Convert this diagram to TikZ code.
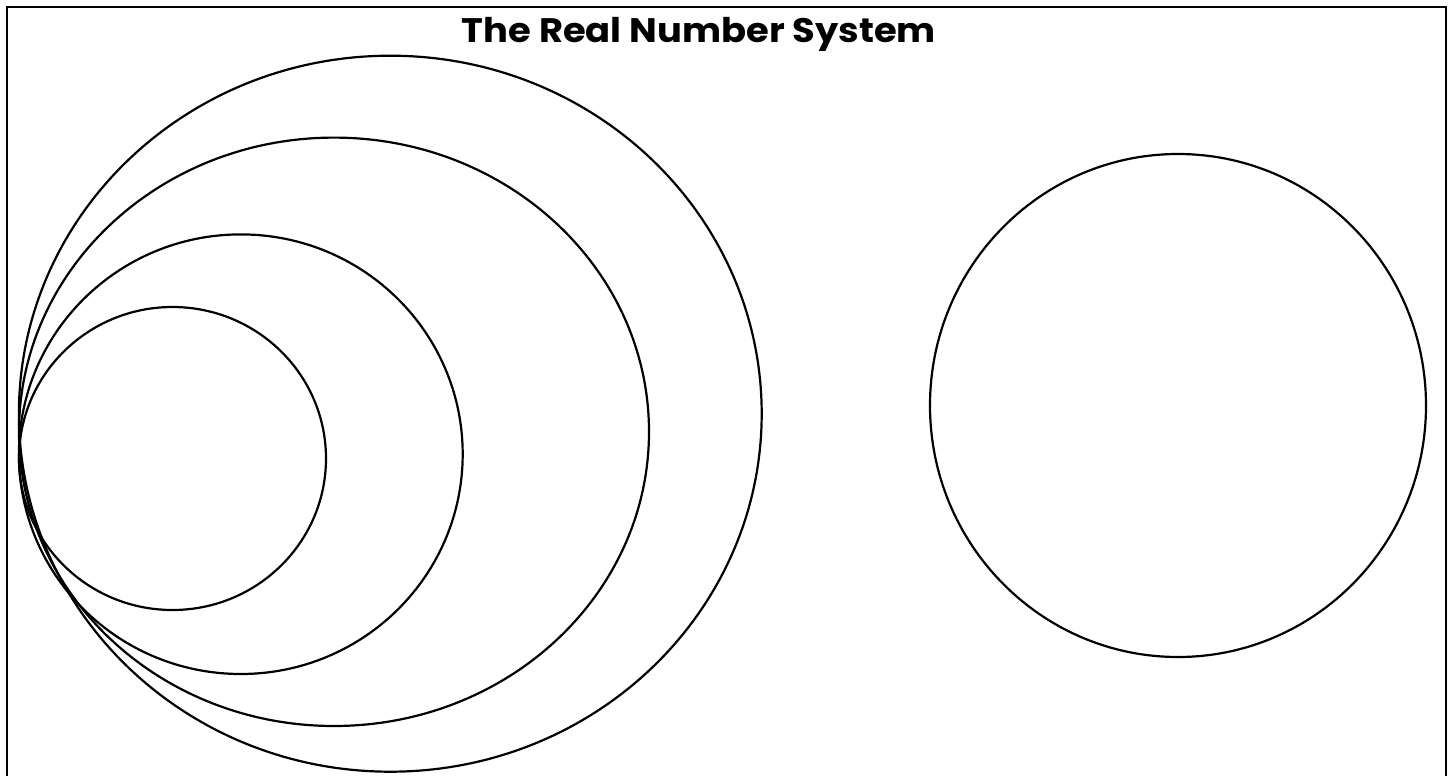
\documentclass[tikz,border=0pt]{standalone}
\usepackage{fontspec}
\setmainfont{Poppins}
\newfontfamily\titlefont[FakeStretch=1.085]{Poppins}
\begin{document}
\begin{tikzpicture}[x=1pt,y=-1pt,
  frame/.style={line width=2.2pt},
  oval/.style={line width=2.2pt},
  titletext/.style={font=\titlefont\fontsize{34}{40}\selectfont\bfseries, anchor=base, inner sep=0pt}]
\useasboundingbox (0,0) rectangle (1452,776);
\draw[frame] (7,800) -- (7,7) -- (1446,7) -- (1446,800);
\node[titletext] (title) at (699,43) {The Real Number System};
\draw[oval] (390.3,413.7) ellipse (371.4 and 358);
\draw[oval] (334,431.8) ellipse (315 and 294.2);
\draw[oval] (240.8,454.2) ellipse (221.9 and 219.8);
\draw[oval] (172.5,458.5) ellipse (153.5 and 151.5);
\draw[oval] (1178,405.5) ellipse (248 and 251.5);
\end{tikzpicture}
\end{document}
